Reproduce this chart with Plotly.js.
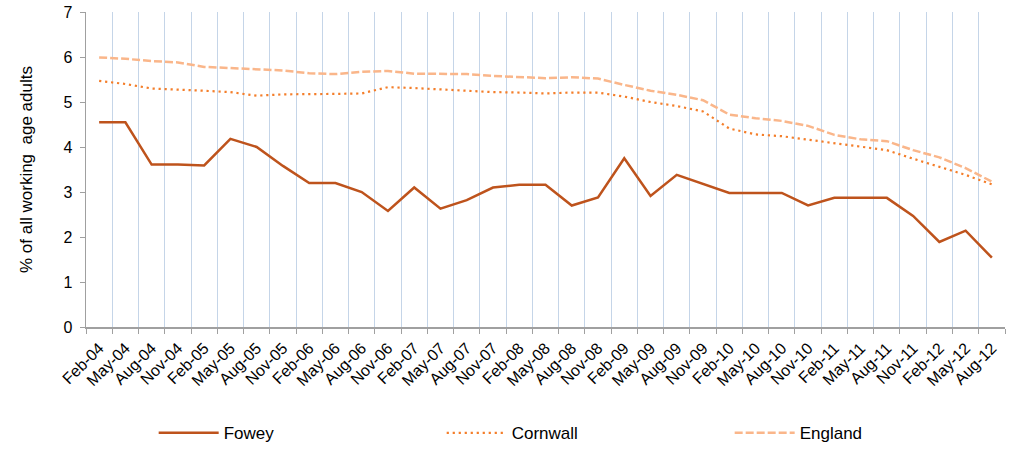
<!DOCTYPE html>
<html>
<head>
<meta charset="utf-8">
<script src="https://cdn.plot.ly/plotly-3.0.1.min.js"></script>
<style>html,body{margin:0;padding:0;background:#fff;}#chart{width:1011px;height:449px;}</style>
</head>
<body>
<div id="chart"></div>
<script>
const categories = ["Feb-04","May-04","Aug-04","Nov-04","Feb-05","May-05","Aug-05","Nov-05","Feb-06","May-06","Aug-06","Nov-06","Feb-07","May-07","Aug-07","Nov-07","Feb-08","May-08","Aug-08","Nov-08","Feb-09","May-09","Aug-09","Nov-09","Feb-10","May-10","Aug-10","Nov-10","Feb-11","May-11","Aug-11","Nov-11","Feb-12","May-12","Aug-12"];
const fowey = [4.55,4.55,3.61,3.61,3.59,4.18,4.0,3.58,3.2,3.2,3.0,2.58,3.1,2.63,2.82,3.1,3.16,3.16,2.7,2.88,3.75,2.91,3.38,3.18,2.98,2.98,2.98,2.7,2.87,2.87,2.87,2.47,1.89,2.14,1.54];
const cornwall = [5.47,5.4,5.3,5.28,5.25,5.22,5.14,5.17,5.17,5.18,5.19,5.33,5.31,5.28,5.25,5.22,5.21,5.19,5.21,5.21,5.12,5.0,4.91,4.79,4.41,4.28,4.24,4.16,4.08,4.01,3.93,3.74,3.56,3.38,3.17];
const england = [5.99,5.96,5.91,5.88,5.78,5.75,5.72,5.7,5.64,5.62,5.67,5.69,5.63,5.62,5.62,5.58,5.55,5.53,5.55,5.52,5.38,5.25,5.16,5.04,4.72,4.64,4.58,4.47,4.27,4.17,4.13,3.93,3.77,3.53,3.23];
const seriesNames = ["Fowey","Cornwall","England"];

const font = "Liberation Sans, Arial, sans-serif";
const traces = [
  {x: categories, y: fowey, name: seriesNames[0], type: "scatter", mode: "lines",
   line: {color: "#BE531C", width: 2.5}},
  {x: categories, y: cornwall, name: seriesNames[1], type: "scatter", mode: "lines",
   line: {color: "#F47E2A", width: 2.2, dash: "2.2px,3.8px"}},
  {x: categories, y: england, name: seriesNames[2], type: "scatter", mode: "lines",
   line: {color: "#FAB68A", width: 2.5, dash: "8px,3px"}}
];
const layout = {
  width: 1011, height: 449,
  margin: {l: 86, r: 6, t: 12, b: 122, pad: 0},
  paper_bgcolor: "#fff", plot_bgcolor: "#fff",
  font: {family: font, size: 16, color: "#000"},
  showlegend: true,
  legend: {orientation: "h", xref: "container", yref: "container", x: 0.152, y: 0.035,
    xanchor: "left", yanchor: "middle", itemwidth: 60, entrywidth: 213, entrywidthmode: "pixels",
    font: {family: font, size: 17, color: "#000"}, bgcolor: "rgba(0,0,0,0)", tracegroupgap: 0},
  xaxis: {type: "category", range: [-0.5, 34.5], tickson: "boundaries",
    showgrid: true, gridcolor: "#C5D5E8", gridwidth: 1,
    showline: true, linecolor: "#A0A0A0", linewidth: 1.5,
    ticks: "outside", ticklen: 5, tickcolor: "#A0A0A0", ticklabelstandoff: 4,
    tickangle: -45, tickfont: {family: font, size: 16, color: "#000"}, automargin: false},
  yaxis: {range: [0, 7], dtick: 1, tick0: 0, showgrid: false, zeroline: false,
    showline: true, linecolor: "#A0A0A0", linewidth: 1.5,
    ticks: "outside", ticklen: 5, tickcolor: "#A0A0A0", ticklabelstandoff: 4,
    tickfont: {family: font, size: 16, color: "#000"},
    title: {text: "% of all working  age adults", font: {family: font, size: 17, color: "#000"}, standoff: 26},
    automargin: false}
};
Plotly.newPlot("chart", traces, layout, {staticPlot: true, displayModeBar: false});
</script>
</body>
</html>
